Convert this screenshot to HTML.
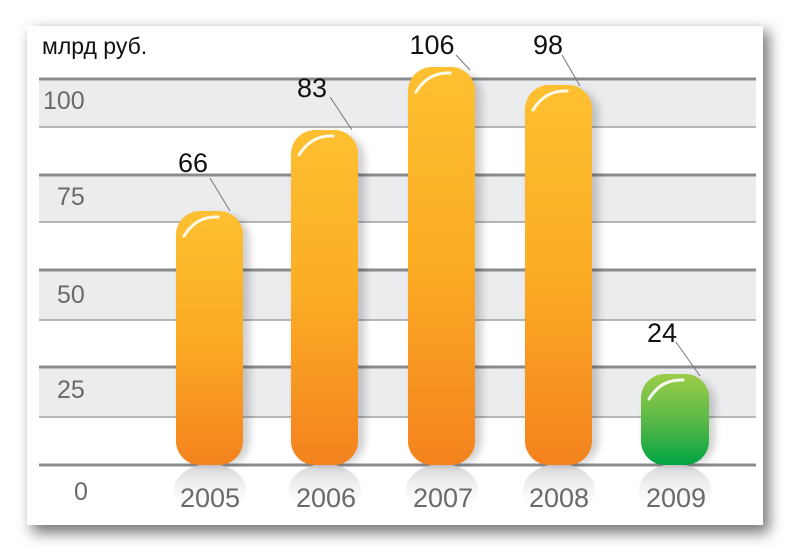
<!DOCTYPE html>
<html><head><meta charset="utf-8"><style>
body{margin:0;width:790px;height:552px;background:#fff;overflow:hidden;font-family:"Liberation Sans",sans-serif}
</style></head><body>
<svg width="790" height="552" viewBox="0 0 790 552" xmlns="http://www.w3.org/2000/svg">
<defs>
<linearGradient id="o" x1="0" y1="0" x2="0" y2="1"><stop offset="0" stop-color="#fdc030"/><stop offset="0.5" stop-color="#fbac25"/><stop offset="1" stop-color="#f4821e"/></linearGradient>
<linearGradient id="g" x1="0" y1="0" x2="0" y2="1"><stop offset="0" stop-color="#9ccc48"/><stop offset="0.5" stop-color="#5cb947"/><stop offset="1" stop-color="#00a443"/></linearGradient>
<linearGradient id="r" x1="0" y1="0" x2="0" y2="1"><stop offset="0" stop-color="#d4d5d8"/><stop offset="1" stop-color="#fff" stop-opacity="0"/></linearGradient>
<filter id="sh" x="-10%" y="-10%" width="120%" height="120%"><feGaussianBlur stdDeviation="7"/></filter>
<filter id="bs" x="-30%" y="-10%" width="160%" height="120%"><feGaussianBlur stdDeviation="4"/></filter>
</defs>
<rect x="32" y="31" width="737" height="502" fill="#777" filter="url(#sh)"/>
<rect x="27" y="26" width="736" height="499" fill="#fff"/>
<g fill="#ebecee">
<rect x="39" y="79" width="717" height="48"/><rect x="39" y="175" width="717" height="47"/>
<rect x="39" y="270" width="717" height="50"/><rect x="39" y="367" width="717" height="50"/>
</g>
<g stroke="#8a8b8e" stroke-width="3"><line x1="39" x2="756" y1="79" y2="79"/><line x1="39" x2="756" y1="175" y2="175"/><line x1="39" x2="756" y1="270" y2="270"/><line x1="39" x2="756" y1="367" y2="367"/><line x1="39" x2="756" y1="465" y2="465"/></g>
<g stroke="#a0a1a4" stroke-width="1.5"><line x1="39" x2="756" y1="127" y2="127"/><line x1="39" x2="756" y1="222" y2="222"/><line x1="39" x2="756" y1="320" y2="320"/><line x1="39" x2="756" y1="417" y2="417"/></g>
<g fill="url(#r)">
<ellipse cx="210" cy="490" rx="36" ry="26"/><ellipse cx="325" cy="490" rx="36" ry="26"/><ellipse cx="442" cy="490" rx="36" ry="26"/><ellipse cx="559" cy="490" rx="36" ry="26"/><ellipse cx="675" cy="490" rx="36" ry="26"/>
</g>
<g fill="#000" opacity="0.18" filter="url(#bs)">
<rect x="180" y="215" width="70" height="250" rx="24"/><rect x="295" y="134" width="70" height="331" rx="24"/><rect x="412" y="71" width="70" height="394" rx="24"/><rect x="529" y="89" width="70" height="376" rx="24"/><rect x="645" y="378" width="70" height="87" rx="24"/>
</g>
<rect x="176" y="211" width="67" height="254" rx="24" fill="url(#o)"/>
<rect x="291" y="130" width="67" height="335" rx="24" fill="url(#o)"/>
<rect x="408" y="67" width="67" height="398" rx="24" fill="url(#o)"/>
<rect x="525" y="85" width="67" height="380" rx="24" fill="url(#o)"/>
<rect x="641" y="374" width="68" height="91" rx="24" fill="url(#g)"/>
<g fill="none" stroke="#fff" stroke-width="3" stroke-linecap="round" opacity="0.9">
<path d="M184 236 Q196 216 218 217"/><path d="M299 155 Q311 135 333 136"/><path d="M416 92 Q428 72 450 73"/><path d="M533 110 Q545 90 567 91"/><path d="M649 399 Q661 379 683 380"/>
</g>
<g stroke="#777" stroke-width="1"><line x1="210" y1="178" x2="230" y2="211"/><line x1="330" y1="97" x2="352" y2="130"/><line x1="456" y1="55" x2="470" y2="70"/><line x1="562" y1="55" x2="580" y2="86"/><line x1="676" y1="342" x2="700" y2="376"/></g>
<g font-size="27" fill="#111" text-anchor="middle" textLength="0">
<text x="193" y="172">66</text><text x="312" y="97">83</text><text x="432" y="54">106</text><text x="548" y="54">98</text><text x="662" y="342">24</text>
</g>
<text x="42" y="54" font-size="23" fill="#111">млрд руб.</text>
<g font-size="25" fill="#6a6a6a">
<text x="43" y="109">100</text><text x="57" y="205">75</text><text x="57" y="303">50</text><text x="57" y="398">25</text><text x="74" y="500">0</text>
</g>
<g font-size="27" fill="#6a6a6a" text-anchor="middle">
<text x="210" y="507">2005</text><text x="326" y="507">2006</text><text x="443" y="507">2007</text><text x="559" y="507">2008</text><text x="676" y="507">2009</text>
</g>
</svg>
</body></html>
